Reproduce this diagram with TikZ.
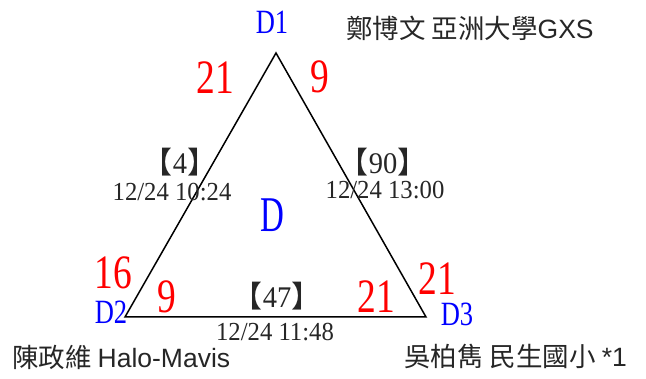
\documentclass[tikz,border=0pt]{standalone}
\usepackage{fontspec}
\setmainfont{Liberation Serif}[FakeStretch=0.78]
\setsansfont{Liberation Sans}
\newfontfamily\cjkfont{Noto Sans CJK TC}
\newfontfamily\datefont{Liberation Serif}[FakeStretch=0.95]
\newfontfamily\bigfont{Liberation Serif}[FakeStretch=0.66]
\newcommand{\fsz}[1]{\fontsize{#1}{#1}\selectfont}
\newcommand{\game}[1]{{\cjkfont 【}#1{\cjkfont 】}}
\tikzset{
  vlabel/.style={text=blue, inner sep=0pt, font=\fsz{34}},
  score/.style={text=red, inner sep=0pt, font=\fsz{48}},
  gamebox/.style={inner sep=0pt, font=\datefont\fsz{30}, text=black!85},
  gametime/.style={inner sep=0pt, font=\datefont\fsz{26}, text=black!85},
  player/.style={inner sep=0pt, font=\fsz{26.5}, text=black!85}
}
\begin{document}
\begin{tikzpicture}[x=1pt,y=-1pt]
  \useasboundingbox (0,0) rectangle (646,379);
  % vertices
  \coordinate (v1) at (276,53);
  \coordinate (v2) at (125,317);
  \coordinate (v3) at (426,317);
  \draw[line width=1.5pt, line join=miter] (v1) -- (v2) -- (v3) -- cycle;

  % vertex names
  \node[vlabel] (d1) at (272,22) {D1};
  \node[vlabel] (d2) at (111,312) {D2};
  \node[vlabel] (d3) at (457,314) {D3};
  \node[text=blue, inner sep=0pt, font=\bigfont\fsz{50}] (dd) at (272,215) {D};

  % scores
  \node[score] (s12) at (215,78) {21};
  \node[score] (s13) at (320,77) {9};
  \node[score] (s21) at (113,273) {16};
  \node[score] (s23) at (167,297) {9};
  \node[score] (s32) at (376,297) {21};
  \node[score, text depth=0pt] (s31) at (437,279) {21};

  % games
  \node[gamebox] (g12) at (180,162) {\game{4}};
  \node[gametime] (t12) at (172,192) {12/24 10:24};
  \node[gamebox] (g13) at (383,162) {\game{90}};
  \node[gametime] (t13) at (385,190) {12/24 13:00};
  \node[gamebox] (g23) at (277,296) {\game{47}};
  \node[gametime] (t23) at (275,332) {12/24 11:48};

  % players
  \node[player, anchor=west] (p1) at (346,28) {\cjkfont 鄭博文 亞洲大學\sffamily GXS};
  \node[player, anchor=west] (p2) at (12,357) {\cjkfont 陳政維 \sffamily Halo-Mavis};
  \node[player, anchor=east] (p3) at (627,357) {\cjkfont 吳柏雋 民生國小 \sffamily *1};
\end{tikzpicture}
\end{document}
